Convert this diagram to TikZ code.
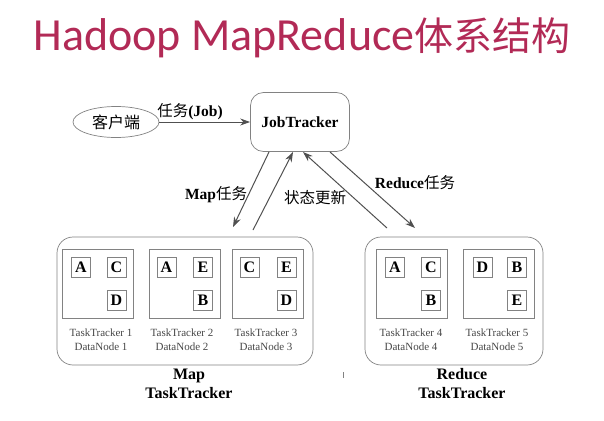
\documentclass[tikz,border=0pt]{standalone}
\usepackage{fontspec}
\setmainfont{Liberation Serif}
\newfontfamily\cjk{Noto Sans CJK SC}
\newfontfamily\titlefont{Carlito}
\usetikzlibrary{arrows.meta,shapes.geometric}
\definecolor{titlered}{RGB}{178,42,86}
\definecolor{linegray}{RGB}{80,80,80}
\definecolor{boxgray}{RGB}{130,130,130}
\definecolor{txtgray}{RGB}{70,70,70}
\begin{document}
\begin{tikzpicture}[x=1pt,y=-1pt,
  conn/.style={draw=linegray, line width=1pt, -{Stealth[length=10pt,width=7pt]}},
  container/.style={draw=boxgray, line width=0.7pt, rounded corners=16pt, inner sep=0pt},
  ttbox/.style={draw=boxgray, line width=0.7pt, minimum width=71pt, minimum height=69pt, inner sep=0pt},
  letter/.style={draw=boxgray, line width=0.6pt, minimum width=19pt, minimum height=20pt, inner sep=0pt, font=\fontsize{16}{16}\selectfont\bfseries},
  ttlabel/.style={align=center, text=txtgray, font=\fontsize{11}{14}\selectfont, inner sep=0pt},
  grouplabel/.style={align=center, font=\fontsize{16}{19}\selectfont\bfseries, inner sep=0pt},
  edgelabel/.style={font=\fontsize{15.5}{17}\selectfont, inner sep=0pt}]
\useasboundingbox (0,0) rectangle (604,420);

% title
\node[text=titlered, inner sep=0pt] (title) at (302,38) {\titlefont\fontsize{46}{50}\selectfont Hadoop MapReduce\cjk\fontsize{39}{42}\selectfont 体系结构};

% client and job tracker
\node[draw=boxgray, line width=0.7pt, ellipse, minimum width=86pt, minimum height=31pt, inner sep=0pt] (client) at (116,122) {\cjk\fontsize{16}{18}\selectfont 客户端};
\node[draw=boxgray, line width=0.7pt, rounded corners=13pt, minimum width=99pt, minimum height=59pt, inner sep=0pt] (jt) at (300,122) {\fontsize{15.5}{18}\selectfont\bfseries JobTracker};
\draw[conn] (client.east) -- (jt.west);
\node[edgelabel] (joblabel) at (190,112) {{\cjk 任务}\bfseries(Job)};

% containers
\node[container, minimum width=256pt, minimum height=128pt] (mapc) at (185,301) {};
\node[container, minimum width=178pt, minimum height=128pt] (redc) at (454,301) {};

% task tracker boxes
\node[ttbox] (tt1) at (97.5,283.5) {};
\node[ttbox] (tt2) at (184.5,283.5) {};
\node[ttbox] (tt3) at (267.5,283.5) {};
\node[ttbox] (tt4) at (412,283.5) {};
\node[ttbox] (tt5) at (498.5,283.5) {};

% letters
\node[letter] (t1a) at (81,267) {A};
\node[letter] (t1c) at (116.5,267) {C};
\node[letter] (t1d) at (116.5,300) {D};
\node[letter] (t2a) at (166.5,267) {A};
\node[letter] (t2e) at (203,267) {E};
\node[letter] (t2b) at (203,300) {B};
\node[letter] (t3c) at (249.5,267) {C};
\node[letter] (t3e) at (286.5,267) {E};
\node[letter] (t3d) at (286.5,300) {D};
\node[letter] (t4a) at (395,267) {A};
\node[letter] (t4c) at (431,267) {C};
\node[letter] (t4b) at (431,300) {B};
\node[letter] (t5d) at (482.5,267) {D};
\node[letter] (t5b) at (517,267) {B};
\node[letter] (t5e) at (517,300) {E};

% task tracker labels
\node[ttlabel] (l1) at (101,340) {TaskTracker 1\\DataNode 1};
\node[ttlabel] (l2) at (182,340) {TaskTracker 2\\DataNode 2};
\node[ttlabel] (l3) at (266,340) {TaskTracker 3\\DataNode 3};
\node[ttlabel] (l4) at (411,340) {TaskTracker 4\\DataNode 4};
\node[ttlabel] (l5) at (497,340) {TaskTracker 5\\DataNode 5};

% group labels
\node[grouplabel] (mapl) at (189,384) {Map\\TaskTracker};
\node[grouplabel] (redl) at (462,384) {Reduce\\TaskTracker};

% arrows between job tracker and containers
\coordinate (m1) at (269,152);
\coordinate (m2) at (233,227);
\coordinate (s1) at (253,230);
\coordinate (s2) at (293,152);
\coordinate (r1) at (387,228);
\coordinate (r2) at (303,152);
\coordinate (d1) at (330,152);
\coordinate (d2) at (415,228);
\draw[conn] (m1) -- (m2);
\draw[conn] (s1) -- (s2);
\draw[conn] (r1) -- (r2);
\draw[conn] (d1) -- (d2);
\node[edgelabel] (maplabel) at (216,195) {{\bfseries Map}\cjk 任务};
\node[edgelabel] (statlabel) at (315,198) {\cjk 状态更新};
\node[edgelabel] (redlabel) at (415,183) {{\bfseries Reduce}\cjk 任务};

% small mark
\draw[boxgray, line width=0.6pt] (343.5,372) -- (343.5,378);
\end{tikzpicture}
\end{document}
